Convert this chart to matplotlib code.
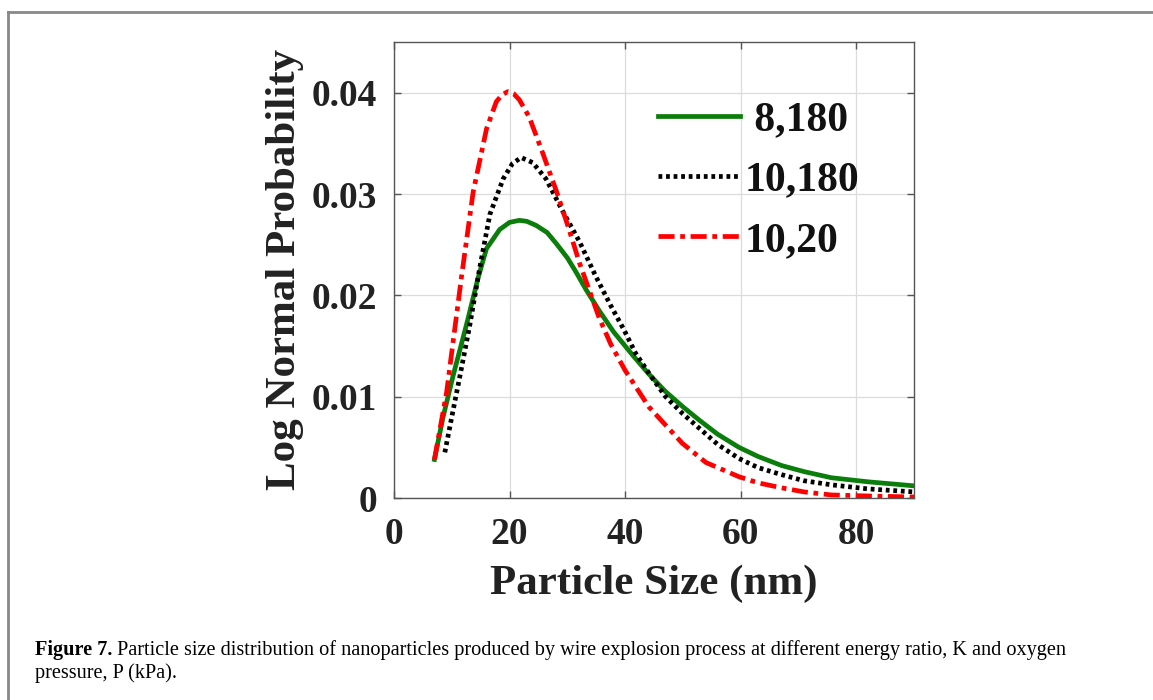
"""
    Log normal particle size distribution (Figure 7)
"""
import matplotlib.pyplot as plt
from matplotlib.lines import Line2D

# values
x_8_180 = [7.0, 8.5, 10.2, 12.5, 14.5, 16.0, 18.3, 20.0, 21.7, 23.0, 24.6, 26.5,
           28.1, 30.0, 31.5, 33.2, 35.5, 38.0, 41.3, 44.0, 47.0, 50.0, 52.8,
           56.0, 59.7, 63.0, 67.1, 71.0, 75.7, 82.0, 90.0]
y_8_180 = [0.0038, 0.0080, 0.0120, 0.0170, 0.0216, 0.0246, 0.0265, 0.0272,
           0.0274, 0.0273, 0.0269, 0.0262, 0.0251, 0.0237, 0.0223, 0.0206,
           0.0185, 0.0164, 0.0141, 0.0123, 0.0105, 0.0090, 0.0077, 0.0063,
           0.0050, 0.0041, 0.0032, 0.0026, 0.0020, 0.0016, 0.0012]

x_10_180 = [8.8, 10.0, 11.4, 13.1, 14.8, 16.6, 18.9, 20.5, 22.0, 24.0, 26.3,
            29.2, 32.1, 34.9, 37.5, 39.8, 41.8, 44.5, 47.0, 50.0, 52.8, 56.0,
            59.7, 63.0, 67.1, 71.0, 75.7, 82.0, 90.0]
y_10_180 = [0.0045, 0.0080, 0.0120, 0.0170, 0.0226, 0.0280, 0.0315, 0.0330,
            0.0336, 0.0331, 0.0315, 0.0283, 0.0253, 0.0219, 0.0190, 0.0166,
            0.0143, 0.0120, 0.0100, 0.0083, 0.0069, 0.0053, 0.0039, 0.0030,
            0.0023, 0.0017, 0.0013, 0.0009, 0.0006]

x_10_20 = [7.0, 9.1, 10.2, 11.7, 13.7, 16.0, 17.7, 18.7, 19.7, 20.7, 21.7, 23.4,
           25.7, 28.1, 30.3, 32.1, 35.5, 37.5, 40.0, 44.1, 49.9, 54.0, 59.7,
           63.0, 67.1, 71.0, 75.7, 82.0, 90.0]
y_10_20 = [0.0038, 0.0104, 0.0153, 0.0219, 0.0302, 0.0364, 0.0391, 0.0398,
           0.0401, 0.0399, 0.0393, 0.0376, 0.0341, 0.0303, 0.0265, 0.0232,
           0.0178, 0.0152, 0.0126, 0.0090, 0.0054, 0.0035, 0.0021, 0.0015,
           0.0010, 0.0006, 0.0003, 0.0002, 0.0001]

labels = [' 8,180', '10,180', '10,20']
x_ticks = [0, 20, 40, 60, 80]
y_ticks = [0, 0.01, 0.02, 0.03, 0.04]
y_tick_labels = ['0', '0.01', '0.02', '0.03', '0.04']

caption_bold = 'Figure 7.'
caption_1 = (' Particle size distribution of nanoparticles produced by wire explosion '
             'process at different energy ratio, K and oxygen')
caption_2 = 'pressure, P (kPa).'

serif = ['Liberation Serif', 'DejaVu Serif']

fig = plt.figure(figsize=(11.53, 7.0), dpi=100)

# page-like frame (top and left edges only)
fig.add_artist(Line2D([8 / 1153, 8 / 1153], [0, 1 - 12 / 700], color='#888888', lw=2))
fig.add_artist(Line2D([8 / 1153, 1], [1 - 12 / 700, 1 - 12 / 700], color='#888888', lw=2))

ax = fig.add_axes([394 / 1153, 1 - 498 / 700, 520 / 1153, 456 / 700])

ax.plot(x_8_180, y_8_180, color='#0a7d0a', lw=3.4, label=labels[0])
ax.plot(x_10_180, y_10_180, color='black', lw=3.4, linestyle=(0, (0.8, 0.8)),
        label=labels[1])
ax.plot(x_10_20, y_10_20, color='#ff0000', lw=3.4, linestyle=(0, (3.4, 1.2, 1.0, 1.2)),
        label=labels[2])

ax.set_xlim(0, 90)
ax.set_ylim(0, 0.045)
ax.set_xticks(x_ticks)
ax.set_yticks(y_ticks)
ax.set_yticklabels(y_tick_labels)
ax.grid(True, color='#dcdcdc', lw=0.9)
ax.set_axisbelow(True)
for s in ax.spines.values():
    s.set_color('#555555')
    s.set_linewidth(1.0)
ax.tick_params(direction='in', top=True, right=True, length=5, width=1,
               color='#555555', labelsize=27)
ax.tick_params(axis='x', pad=14)
ax.tick_params(axis='y', pad=12)
for lab in ax.get_xticklabels() + ax.get_yticklabels():
    lab.set_fontfamily(serif)
    lab.set_fontweight('bold')
    lab.set_color('#222222')

ax.set_xlabel('Particle Size (nm)', fontsize=31, fontweight='bold',
              family=serif, color='#222222', labelpad=9)
ax.set_ylabel('Log Normal Probability', fontsize=31, fontweight='bold',
              family=serif, color='#222222', labelpad=6)

leg = ax.legend(loc='upper left', bbox_to_anchor=(0.508, 0.87), frameon=False,
                prop={'family': serif, 'weight': 'bold', 'size': 30},
                handlelength=1.97, handletextpad=0.1, labelspacing=0.53,
                borderpad=0, borderaxespad=0)
for t in leg.get_texts():
    t.set_color('#111111')

# caption: bold lead followed by regular text
r = fig.canvas.get_renderer()
tb = fig.text(35 / 1153, 1 - 655 / 700, caption_bold, fontsize=14.6, fontweight='bold',
              family=serif, va='baseline')
bb = tb.get_window_extent(renderer=r)
fig.text(bb.x1 / fig.bbox.width, 1 - 655 / 700, caption_1, fontsize=14.6,
         family=serif, va='baseline')
fig.text(35 / 1153, 1 - 678 / 700, caption_2, fontsize=14.6, family=serif,
         va='baseline')

fig.savefig('out.png', dpi=100)
